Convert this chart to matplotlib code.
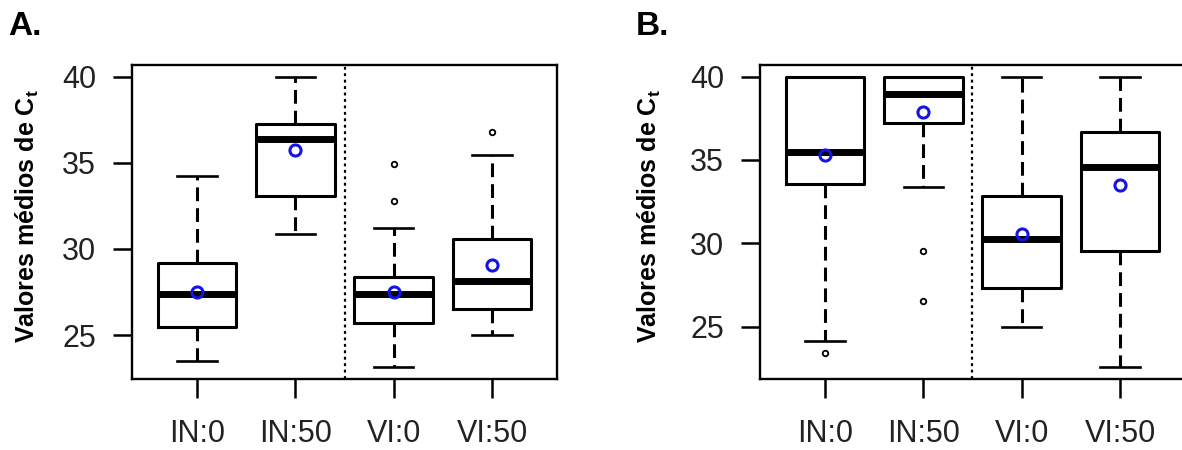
import matplotlib
matplotlib.use("Agg")
import matplotlib.pyplot as plt

plt.rcParams.update(
    {
        "font.family": ["Liberation Sans", "DejaVu Sans"],
        "font.size": 22,
        "axes.linewidth": 1.7,
        "xtick.major.width": 1.8,
        "ytick.major.width": 1.8,
        "xtick.major.size": 14,
        "ytick.major.size": 14,
        "xtick.major.pad": 15,
        "ytick.major.pad": 12,
        "xtick.color": "black",
        "ytick.color": "black",
        "xtick.labelcolor": "#222222",
        "ytick.labelcolor": "#222222",
    }
)

groups = ["IN:0", "IN:50", "VI:0", "VI:50"]

# panel A: five-number summaries, means and outliers
a_low = [23.48, 30.86, 23.13, 25.00]
a_q1 = [25.48, 33.06, 25.68, 26.50]
a_med = [27.37, 36.41, 27.37, 28.14]
a_q3 = [29.20, 37.26, 28.39, 30.59]
a_high = [34.25, 40.00, 31.21, 35.43]
a_mean = [27.53, 35.76, 27.53, 29.05]
a_out = [[], [], [34.93, 32.77], [36.76]]

# panel B
b_low = [24.14, 33.38, 25.00, 22.55]
b_q1 = [33.56, 37.21, 27.29, 29.53]
b_med = [35.47, 38.96, 30.23, 34.55]
b_q3 = [40.00, 40.00, 32.86, 36.67]
b_high = [40.00, 40.00, 40.00, 40.00]
b_mean = [35.27, 37.87, 30.58, 33.52]
b_out = [[23.44], [29.53, 26.53], [], []]

fig = plt.figure(figsize=(11.82, 4.5), dpi=100)

panels = [
    ("A.", 132, a_low, a_q1, a_med, a_q3, a_high, a_mean, a_out, -0.215),
    ("B.", 760, b_low, b_q1, b_med, b_q3, b_high, b_mean, b_out, -0.228),
]
for tag, left_px, low, q1, med, q3, high, mean, out, ylab_x in panels:
    ax = fig.add_axes([left_px / 1182, 71 / 450, 425 / 1182, 314 / 450])
    stats = []
    for i in range(len(groups)):
        stats.append(
            dict(whislo=low[i], q1=q1[i], med=med[i], q3=q3[i], whishi=high[i],
                 mean=mean[i], fliers=out[i], label=groups[i])
        )
    ax.bxp(
        stats,
        positions=[1, 2, 3, 4],
        widths=0.8,
        capwidths=0.4,
        showmeans=True,
        boxprops=dict(color="black", linewidth=2.2),
        medianprops=dict(color="black", linewidth=5, solid_capstyle="butt"),
        whiskerprops=dict(color="black", linewidth=2.2, linestyle=(0, (4.5, 2.3))),
        capprops=dict(color="black", linewidth=1.9),
        flierprops=dict(marker="o", markersize=4, markerfacecolor="none",
                        markeredgecolor="black", markeredgewidth=1.3),
        meanprops=dict(marker="o", markersize=8, markerfacecolor="none",
                       markeredgecolor="#1414e6", markeredgewidth=2.2),
    )
    ax.axvline(2.5, color="black", linewidth=1.6, linestyle=(0, (1.3, 1.6)))

    lo = min(low + [v for o in out for v in o])
    hi = max(high)
    pad = 0.04 * (hi - lo)
    ax.set_ylim(lo - pad, hi + pad)
    ax.set_xlim(0.34, 4.66)
    ax.set_yticks([25, 30, 35, 40])
    ax.set_xticks([1, 2, 3, 4], groups)
    ax.set_ylabel(r"Valores médios de C$_\mathregular{t}$", fontsize=18, fontweight="bold")
    ax.yaxis.set_label_coords(ylab_x, 0.52)
    fig.text((left_px - 124) / 1182, 1 - 35 / 450, tag, fontsize=24,
             fontweight="bold", va="baseline")

fig.savefig("out.png", dpi=100)
